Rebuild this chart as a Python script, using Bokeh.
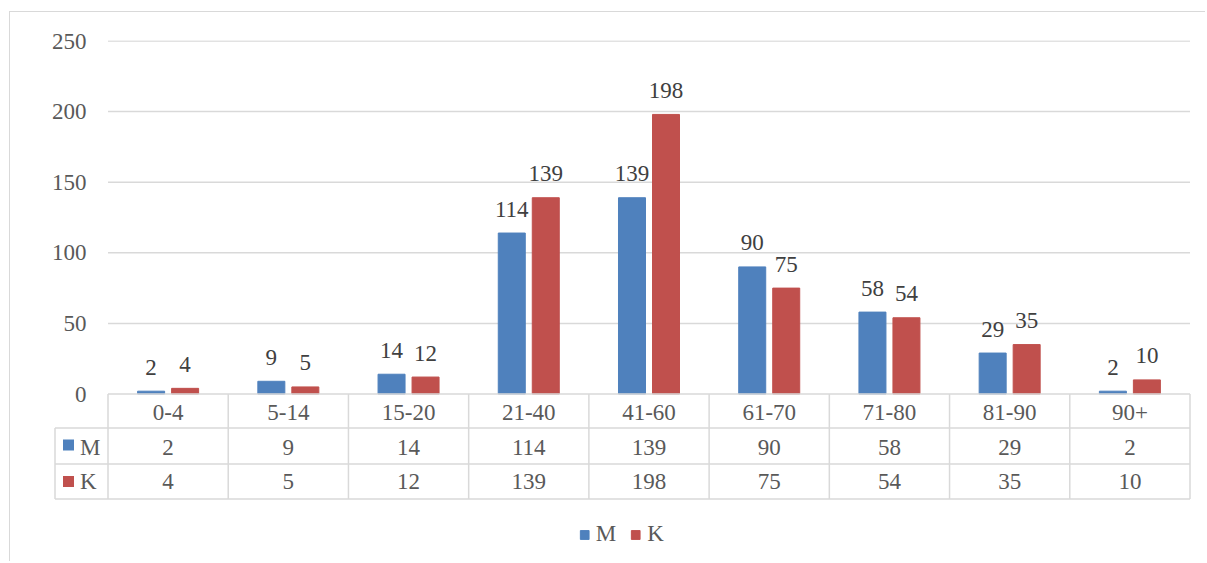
from bokeh.plotting import figure
from bokeh.models import Range1d, LinearAxis, FixedTicker, Legend, LegendItem, ColumnDataSource
from bokeh.transform import dodge
from bokeh.core.properties import value
from bokeh.embed import file_html
from bokeh.resources import INLINE

# ---- data ----
categories = ["0-4", "5-14", "15-20", "21-40", "41-60", "61-70", "71-80", "81-90", "90+"]
series_names = ["M", "K"]
m_values = [2, 9, 14, 114, 139, 90, 58, 29, 2]
k_values = [4, 5, 12, 139, 198, 75, 54, 35, 10]
y_ticks = [0, 50, 100, 150, 200, 250]

# ---- style ----
BLUE = "#4f81bd"
RED = "#c0504d"
GRID = "#d9d9d9"
TXT = "#595959"
LBL = "#404040"
FONT = "Liberation Serif"
FS = "23px"

PXY = 250 / 353.0      # data units per pixel (vertical)
PXX = 1 / 120.22       # data units per pixel (horizontal)

p = figure(width=1196, height=550, output_backend="svg", toolbar_location=None,
           x_range=Range1d(-55.5 * PXX, 9 + 4.5 * PXX),
           y_range=Range1d(-158.5 * PXY, 250 + 0.5 * PXY),
           min_border_left=42, min_border_right=12, min_border_top=28, min_border_bottom=10,
           x_axis_location=None, y_axis_location=None)
p.grid.visible = False
p.outline_line_color = None
p.background_fill_color = "white"
p.border_fill_color = "white"
p.styles = {"border-left": "1.5px solid #d9d9d9", "border-top": "1.5px solid #d9d9d9",
            "margin-left": "9px", "margin-top": "11px"}

n = len(categories)
x_idx = [i + 0.5 for i in range(n)]
LAB = 24 * PXY
src = ColumnDataSource(dict(
    x=x_idx, cat=categories, m=m_values, k=k_values,
    m_txt=[str(v) for v in m_values], k_txt=[str(v) for v in k_values],
    m_lab=[v + LAB for v in m_values], k_lab=[v + LAB for v in k_values],
))

OFF = 17 * PXX
BW = 27 * PXX

# gridlines (plot area only)
p.segment(x0=0, x1=n, y0=y_ticks[1:], y1=y_ticks[1:], line_color=GRID, line_width=1.5)

rm = p.vbar(x=dodge("x", -OFF, range=p.x_range), top="m", width=BW, source=src,
            fill_color=BLUE, line_color=BLUE)
rk = p.vbar(x=dodge("x", OFF, range=p.x_range), top="k", width=BW, source=src,
            fill_color=RED, line_color=RED)

p.text(x=dodge("x", -OFF, range=p.x_range), y="m_lab", text="m_txt", source=src,
       text_align="center", text_baseline="alphabetic", text_color=LBL,
       text_font=value(FONT), text_font_size=FS)
p.text(x=dodge("x", OFF, range=p.x_range), y="k_lab", text="k_txt", source=src,
       text_align="center", text_baseline="alphabetic", text_color=LBL,
       text_font=value(FONT), text_font_size=FS)

# ---- data table ----
row_bounds = [0, -34 * PXY, -70 * PXY, -105 * PXY]
left_x = -53 * PXX
p.segment(x0=[0, left_x, left_x, left_x], x1=[n] * 4, y0=row_bounds, y1=row_bounds,
          line_color=GRID, line_width=1.5)
p.segment(x0=list(range(n + 1)), x1=list(range(n + 1)), y0=0, y1=row_bounds[3],
          line_color=GRID, line_width=1.5)
p.segment(x0=left_x, x1=left_x, y0=row_bounds[1], y1=row_bounds[3],
          line_color=GRID, line_width=1.5)

base_hdr = -18 * PXY
base_m = -53 * PXY
base_k = -87.5 * PXY
p.text(x="x", y=base_hdr, text="cat", source=src, text_align="center",
       text_baseline="alphabetic", text_color=TXT, text_font=value(FONT), text_font_size=FS)
p.text(x="x", y=base_m, text="m_txt", source=src, text_align="center",
       text_baseline="alphabetic", text_color=TXT, text_font=value(FONT), text_font_size=FS)
p.text(x="x", y=base_k, text="k_txt", source=src, text_align="center",
       text_baseline="alphabetic", text_color=TXT, text_font=value(FONT), text_font_size=FS)

key_x = -39.5 * PXX
p.scatter(x=[key_x, key_x], y=[-51 * PXY, -87.5 * PXY], marker="square", size=11,
          fill_color=[BLUE, RED], line_color=None)
p.text(x=[-28 * PXX] * 2, y=[base_m, base_k], text=series_names, text_align="left",
       text_baseline="alphabetic", text_color=TXT, text_font=value(FONT), text_font_size=FS)

# ---- y axis ----
yax = LinearAxis(ticker=FixedTicker(ticks=y_ticks), axis_line_color=None,
                 major_tick_line_color=None, minor_tick_line_color=None,
                 major_label_standoff=-40, major_label_text_font=FONT,
                 major_label_text_font_size=FS, major_label_text_color=TXT)
p.add_layout(yax, "left")

# ---- legend ----
legend = Legend(items=[LegendItem(label=series_names[0], renderers=[rm]),
                       LegendItem(label=series_names[1], renderers=[rk])],
                location="bottom_center", orientation="horizontal",
                glyph_width=11, glyph_height=11, label_standoff=6, spacing=14,
                padding=0, margin=5, border_line_color=None, background_fill_alpha=0,
                label_text_font=FONT, label_text_font_size=FS, label_text_color=TXT)
p.add_layout(legend, "center")

open("out.html", "w").write(file_html(p, INLINE))
